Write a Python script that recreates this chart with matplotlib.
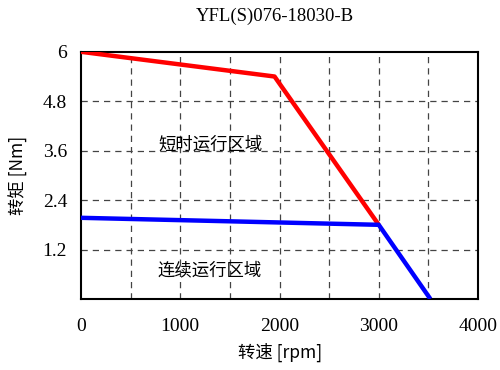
import matplotlib
matplotlib.use("Agg")
import matplotlib.pyplot as plt
import numpy as np

title = "YFL(S)076-18030-B"
xlabel = "转速 [rpm]"
ylabel = "转矩 [Nm]"
peak_speed = [0, 1950, 3000]
peak_torque = [6.0, 5.4, 1.8]
cont_speed = [0, 3000, 3520]
cont_torque = [1.97, 1.8, 0.0]
xticks = [0, 1000, 2000, 3000, 4000]
yticks = [1.2, 2.4, 3.6, 4.8, 6]
ytick_labels = ["1.2", "2.4", "3.6", "4.8", "6"]
label_peak = "短时运行区域"
label_cont = "连续运行区域"

cjk = ["Noto Sans CJK SC", "DejaVu Sans"]
num = ["Liberation Serif", "DejaVu Serif"]

fig = plt.figure(figsize=(5.0, 3.7), dpi=100)
ax = fig.add_axes([0.162, 0.192, 0.794, 0.668])
ax.set_xlim(0, 4000)
ax.set_ylim(0, 6)

for xv in np.arange(500, 4000, 500):
    ax.axvline(xv, color="#444444", lw=0.9, ls=(0, (5, 4)), zorder=1)
for yv in yticks[:-1]:
    ax.axhline(yv, color="#444444", lw=0.9, ls=(0, (5, 4)), zorder=1)

ax.plot(peak_speed, peak_torque, color="#ff0000", lw=3.2, zorder=3, solid_capstyle="butt")
ax.plot(cont_speed, cont_torque, color="#0000ff", lw=3.2, zorder=3, solid_capstyle="butt")

ax.set_xticks(xticks)
ax.set_xticklabels([str(v) for v in xticks], fontfamily=num, fontsize=14)
ax.set_yticks(yticks)
ax.set_yticklabels(ytick_labels, fontfamily=num, fontsize=14)
ax.tick_params(length=0, pad=10)
ax.tick_params(axis="x", pad=14)

for s in ax.spines.values():
    s.set_linewidth(1.5)
    s.set_color("black")

ax.text(1300, 3.74, label_peak, family=cjk, fontsize=12.5, ha="center", va="center")
ax.text(1300, 0.7, label_cont, family=cjk, fontsize=12.5, ha="center", va="center")

fig.text(0.55, 0.955, title, family=num, fontsize=13.5, ha="center", va="center")
fig.text(0.56, 0.048, xlabel, family=cjk, fontsize=12.5, ha="center", va="center")
fig.text(0.036, 0.525, ylabel, family=cjk, fontsize=12.5, ha="center", va="center", rotation=90)

fig.savefig("out.png", dpi=100)
